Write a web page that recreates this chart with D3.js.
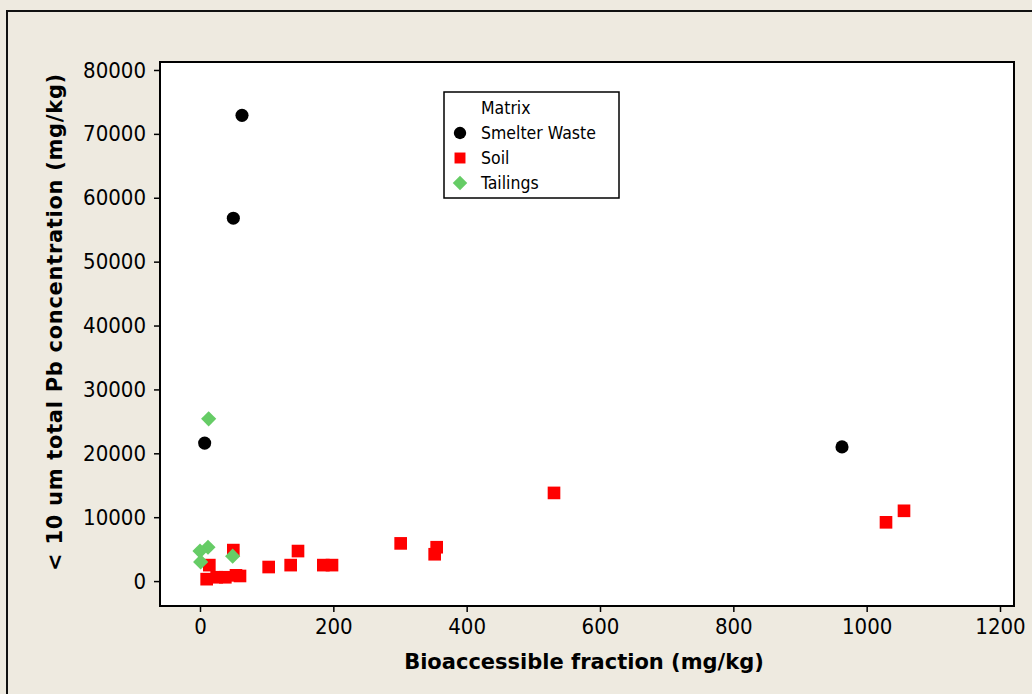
<!DOCTYPE html>
<html>
<head>
<meta charset="utf-8">
<script src="https://cdn.jsdelivr.net/npm/d3@7"></script>
<style>
  body { margin: 0; background: #eeeae0; }
  svg text { font-family: "DejaVu Sans Condensed", "DejaVu Sans", sans-serif; font-stretch: condensed; }
  svg text.axis-label { font-family: "DejaVu Sans", sans-serif; font-stretch: normal; font-weight: bold; }
</style>
</head>
<body>
<div id="chart"></div>
<script>
// values
var smelterX = [63, 50, 7, 963];
var smelterY = [72900, 56800, 21600, 21000];

var soilX = [10, 14, 25, 38, 50, 54, 60, 103, 136, 147, 185, 198, 301, 352, 355, 531, 1029, 1056];
var soilY = [300, 2500, 600, 600, 4850, 900, 800, 2200, 2500, 4700, 2500, 2500, 5900, 4200, 5300, 13800, 9200, 11000];

var tailingsX = [13, 12, 0, 1, 49];
var tailingsY = [25400, 5300, 4700, 3000, 3900];

var xTicks = [0, 200, 400, 600, 800, 1000, 1200];
var yTicks = [0, 10000, 20000, 30000, 40000, 50000, 60000, 70000, 80000];

var groups = ["Smelter Waste", "Soil", "Tailings"];

var W = 1032, H = 694;
var margin = {top: 62, right: 18, bottom: 88, left: 160},
    width = W - margin.left - margin.right,
    height = H - margin.top - margin.bottom;

var svg = d3.select("#chart").append("svg")
  .attr("width", W)
  .attr("height", H);

// outer frame
svg.append("rect")
  .attr("x", 7).attr("y", 11)
  .attr("width", W + 10).attr("height", H + 10)
  .attr("fill", "#eeeae0")
  .attr("stroke", "#111").attr("stroke-width", 2);

var g = svg.append("g")
  .attr("transform", "translate(" + margin.left + "," + margin.top + ")");

var x = d3.scaleLinear().domain([-60, 1221]).range([0, width]);
var y = d3.scaleLinear().domain([-3900, 81250]).range([height, 0]);

g.append("rect")
  .attr("width", width).attr("height", height)
  .attr("fill", "#fff")
  .attr("stroke", "#000").attr("stroke-width", 2);

// AXIS
var xAxis = g.append("g")
  .attr("transform", "translate(0," + height + ")")
  .call(d3.axisBottom(x).tickValues(xTicks).tickSize(6).tickPadding(6).tickFormat(d3.format("d")));
var yAxis = g.append("g")
  .call(d3.axisLeft(y).tickValues(yTicks).tickSize(6).tickPadding(8).tickFormat(d3.format("d")));

[xAxis, yAxis].forEach(function(a) {
  a.select(".domain").remove();
  a.selectAll("line").attr("stroke", "#000").attr("stroke-width", 1.5);
  a.selectAll("text").style("font-size", "22px").attr("fill", "#000");
});

// points
var sym = {
  "Smelter Waste": d3.symbol().type(d3.symbolCircle).size(135),
  "Soil": d3.symbol().type(d3.symbolSquare).size(160),
  "Tailings": d3.symbol().type(d3.symbolSquare).size(115)
};
var rot = {"Smelter Waste": 0, "Soil": 0, "Tailings": 45};
var colors = {"Smelter Waste": "#000000", "Soil": "#ff0000", "Tailings": "#66cc66"};

function plot(name, xs, ys) {
  var pts = xs.map(function(v, i) { return [v, ys[i]]; });
  g.append("g").selectAll("path")
    .data(pts)
    .enter().append("path")
    .attr("d", sym[name])
    .attr("fill", colors[name])
    .attr("transform", function(d) { return "translate(" + x(d[0]) + "," + y(d[1]) + ") rotate(" + rot[name] + ")"; });
}
plot("Smelter Waste", smelterX, smelterY);
plot("Soil", soilX, soilY);
plot("Tailings", tailingsX, tailingsY);

// LEGEND
var legend = svg.append("g").attr("transform", "translate(444,92)");
legend.append("rect")
  .attr("width", 175).attr("height", 106)
  .attr("fill", "#fff").attr("stroke", "#000").attr("stroke-width", 1.5);
legend.append("text")
  .attr("x", 37).attr("y", 16).attr("dy", "0.35em")
  .style("font-size", "17.5px").text("Matrix");
var legendSym = {
  "Smelter Waste": d3.symbol().type(d3.symbolCircle).size(120),
  "Soil": d3.symbol().type(d3.symbolSquare).size(120),
  "Tailings": d3.symbol().type(d3.symbolSquare).size(105)
};
groups.forEach(function(name, i) {
  var row = legend.append("g").attr("transform", "translate(16," + (41 + i * 25) + ")");
  row.append("path")
    .attr("d", legendSym[name])
    .attr("transform", "rotate(" + rot[name] + ")")
    .attr("fill", colors[name]);
  row.append("text")
    .attr("x", 21).attr("dy", "0.35em")
    .style("font-size", "17.5px").text(name);
});

// AXIS LABELS
svg.append("text")
  .attr("class", "axis-label")
  .attr("x", 584).attr("y", 662)
  .attr("dy", "0.35em")
  .attr("text-anchor", "middle")
  .style("font-size", "21px")
  .text("Bioaccessible fraction (mg/kg)");

svg.append("text")
  .attr("class", "axis-label")
  .attr("transform", "translate(55,322) rotate(-90)")
  .attr("dy", "0.35em")
  .attr("text-anchor", "middle")
  .style("font-size", "21px")
  .style("letter-spacing", "0.7px")
  .text("< 10 um total Pb concentration (mg/kg)");
</script>
</body>
</html>
